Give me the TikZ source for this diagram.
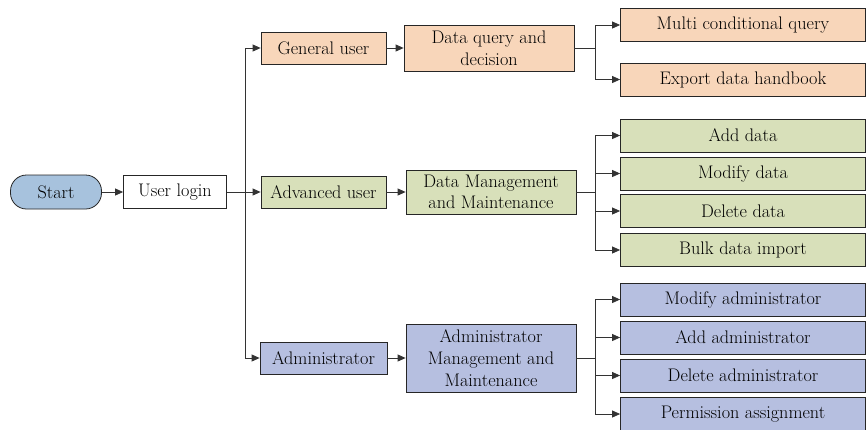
\documentclass[tikz,border=0pt]{standalone}
\usetikzlibrary{arrows.meta}

\definecolor{startblue}{RGB}{167,194,221}
\definecolor{peach}{RGB}{248,214,186}
\definecolor{olive}{RGB}{216,224,186}
\definecolor{lavender}{RGB}{182,191,224}

\tikzset{
  box/.style={draw=black!85, line width=0.8pt, inner sep=1pt, align=center,
    font=\fontsize{18.2}{21.7}\selectfont},
  userbox/.style={box, minimum width=125pt, minimum height=32pt},
  taskbox/.style={box, minimum width=170pt},
  leafbox/.style={box, minimum width=245pt, minimum height=33pt},
  link/.style={draw=black!80, line width=0.8pt},
  arr/.style={link, -{Triangle[length=8pt,width=7pt]}}
}

\begin{document}
\begin{tikzpicture}[x=1pt,y=-1pt]
\useasboundingbox (0,0) rectangle (866,429);

% start and login
\node[box, fill=startblue, rounded corners=16pt, minimum width=91pt, minimum height=34pt] (start) at (56,192) {Start};
\node[box, minimum width=103pt, minimum height=33pt] (login) at (175,192) {User login};

% user kinds
\node[userbox, fill=peach] (general) at (323.5,48) {General user};
\node[userbox, fill=olive] (advanced) at (323.5,192) {Advanced user};
\node[userbox, fill=lavender, minimum width=127pt] (admin) at (323.5,358) {Administrator};

% tasks
\node[taskbox, fill=peach, minimum height=46pt] (query) at (489,48) {Data query and\\decision};
\node[taskbox, fill=olive, minimum height=44pt] (datamgmt) at (491,192) {Data Management\\and Maintenance};
\node[taskbox, fill=lavender, minimum height=68pt] (adminmgmt) at (491,358) {Administrator\\Management and\\Maintenance};

% leaves
\node[leafbox, fill=peach] (multi) at (743,25) {Multi conditional query};
\node[leafbox, fill=peach] (export) at (743,79.5) {Export data handbook};
\node[leafbox, fill=olive] (adddata) at (743,135.5) {Add data};
\node[leafbox, fill=olive] (moddata) at (743,173.5) {Modify data};
\node[leafbox, fill=olive] (deldata) at (743,211) {Delete data};
\node[leafbox, fill=olive] (bulk) at (743,250) {Bulk data import};
\node[leafbox, fill=lavender] (modadmin) at (743,299.5) {Modify administrator};
\node[leafbox, fill=lavender] (addadmin) at (743,337.5) {Add administrator};
\node[leafbox, fill=lavender] (deladmin) at (743,375.5) {Delete administrator};
\node[leafbox, fill=lavender] (perm) at (743,414) {Permission assignment};

% connectors
\coordinate (trunk) at (245,192);
\coordinate (fork) at (595,192);

\draw[arr] (start) -- (login);
\draw[arr] (login) -- (advanced);
\draw[link] (trunk |- general) -- (trunk |- admin);
\draw[arr] (trunk |- general) -- (general);
\draw[arr] (trunk |- admin) -- (admin);

\draw[arr] (general) -- (query);
\draw[arr] (advanced) -- (datamgmt);
\draw[arr] (admin) -- (adminmgmt);

\draw[link] (query) -- (fork |- query);
\draw[link] (fork |- multi) -- (fork |- export);
\draw[link] (datamgmt) -- (fork |- datamgmt);
\draw[link] (fork |- adddata) -- (fork |- bulk);
\draw[link] (adminmgmt) -- (fork |- adminmgmt);
\draw[link] (fork |- modadmin) -- (fork |- perm);
\foreach \leaf in {multi,export,adddata,moddata,deldata,bulk,modadmin,addadmin,deladmin,perm}
  \draw[arr] (fork |- \leaf) -- (\leaf);
\end{tikzpicture}
\end{document}
